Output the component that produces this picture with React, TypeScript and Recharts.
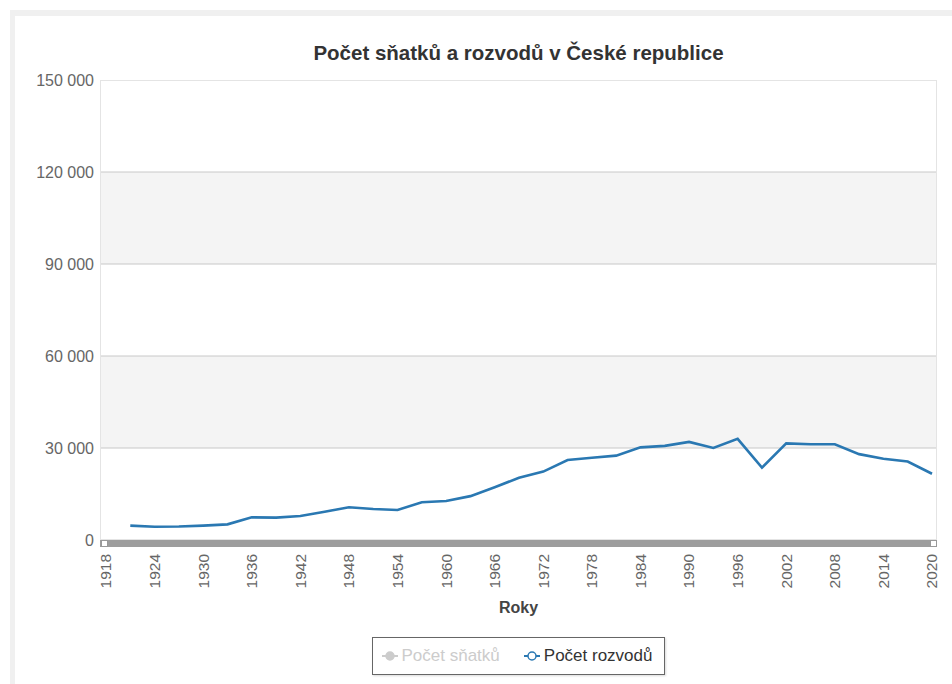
import React from 'react';
import { LineChart, Line, XAxis, YAxis, CartesianGrid, ReferenceLine, Legend } from 'recharts';

// Počet rozvodů (každé 3 roky)
const years = [
  1921, 1924, 1927, 1930, 1933, 1936, 1939, 1942, 1945, 1948, 1951, 1954,
  1957, 1960, 1963, 1966, 1969, 1972, 1975, 1978, 1981, 1984, 1987, 1990,
  1993, 1996, 1999, 2002, 2005, 2008, 2011, 2014, 2017, 2020,
];
const rozvody = [
  4700, 4300, 4400, 4700, 5100, 7400, 7300, 7800, 9200, 10700, 10100, 9800,
  12300, 12700, 14300, 17200, 20300, 22300, 26100, 26800, 27500, 30200, 30700, 32000,
  30000, 33000, 23600, 31500, 31200, 31200, 28000, 26500, 25600, 21600,
];
const xTicks = [
  1918, 1924, 1930, 1936, 1942, 1948, 1954, 1960, 1966, 1972, 1978, 1984,
  1990, 1996, 2002, 2008, 2014, 2020,
];
const yTicks = [0, 30000, 60000, 90000, 120000, 150000];
const seriesNames = ['Počet sňatků', 'Počet rozvodů'];
const seriesActive = [false, true];

const data = years.map((year, i) => ({ year, rozvody: rozvody[i] }));

const FONT = 'Arial, "Liberation Sans", sans-serif';
const BLUE = '#2a78b2';

const fmt = (v: number) => String(v).replace(/\B(?=(\d{3})+(?!\d))/g, ' ');

const XTick = ({ x, y, payload }: any) => (
  <g transform={`translate(${x},${y})`}>
    <text transform="rotate(-90)" textAnchor="end" dy="0.35em" fill="#666" fontSize={15.5} fontFamily={FONT}>
      {payload.value}
    </text>
  </g>
);

const LegendBox = () => (
  <div style={{ display: 'flex', justifyContent: 'center' }}>
    <div
      style={{
        border: '1px solid #666',
        boxShadow: '1px 1px 2px rgba(0,0,0,0.15)',
        height: 36,
        padding: '0 12px 0 9px',
        display: 'flex',
        alignItems: 'center',
        gap: 24,
        fontFamily: FONT,
        fontSize: 17,
        background: '#fff',
      }}
    >
      {seriesNames.map((name, i) => {
        const c = seriesActive[i] ? BLUE : '#cccccc';
        return (
          <div key={name} style={{ display: 'flex', alignItems: 'center', gap: 4, color: seriesActive[i] ? '#333' : '#cccccc' }}>
            <svg width={16} height={12}>
              <line x1={0} y1={6} x2={16} y2={6} stroke={c} strokeWidth={2} />
              <circle cx={8} cy={6} r={4} fill={seriesActive[i] ? '#fff' : c} stroke={c} strokeWidth={1.5} />
            </svg>
            <span>{name}</span>
          </div>
        );
      })}
    </div>
  </div>
);

export default function App() {
  return (
    <div style={{ position: 'absolute', left: 0, top: 0, width: 952, height: 684, background: '#fff', overflow: 'hidden' }}>
      <div style={{ position: 'absolute', left: 10, top: 10, width: 942, height: 6, background: '#f0f0f0' }} />
      <div style={{ position: 'absolute', left: 10, top: 10, width: 5, height: 674, background: '#f0f0f0' }} />
      <div
        style={{
          position: 'absolute', left: 100, top: 42, width: 837, textAlign: 'center',
          fontFamily: FONT, fontSize: 20.5, fontWeight: 'bold', color: '#333', lineHeight: '22px',
        }}
      >
        Počet sňatků a rozvodů v České republice
      </div>
      <div style={{ position: 'absolute', left: 0, top: 0 }}>
        <LineChart width={952} height={684} data={data} margin={{ top: 80, right: 15, bottom: 9, left: 0 }}>
          <CartesianGrid vertical={false} stroke="transparent" horizontalFill={['#ffffff', '#f4f4f4']} fillOpacity={1} />
          {yTicks.slice(1, -1).map((v) => (
            <ReferenceLine key={v} y={v} stroke="#c8c8c8" strokeWidth={1} />
          ))}
          <XAxis
            dataKey="year"
            type="number"
            domain={[1918, 2020]}
            ticks={xTicks}
            interval={0}
            padding={{ left: 6, right: 5 }}
            height={97}
            axisLine={false}
            tickLine={false}
            tickSize={0}
            tickMargin={14}
            tick={<XTick />}
            label={{ value: 'Roky', position: 'insideBottom', offset: 24, fill: '#444', fontSize: 16, fontWeight: 'bold', fontFamily: FONT }}
          />
          <YAxis
            type="number"
            domain={[0, 150000]}
            ticks={yTicks}
            width={100}
            axisLine={false}
            tickLine={false}
            tickSize={0}
            tickMargin={6}
            tickFormatter={fmt}
            tick={{ fill: '#666', fontSize: 16, fontFamily: FONT }}
          />
          <Line
            type="linear"
            dataKey="rozvody"
            name={seriesNames[1]}
            stroke={BLUE}
            strokeWidth={2.6}
            dot={false}
            isAnimationActive={false}
          />
          <Legend verticalAlign="bottom" wrapperStyle={{ left: 100, width: 837 }} content={<LegendBox />} />
        </LineChart>
      </div>
      <div style={{ position: 'absolute', left: 100, top: 80, width: 837, height: 460, boxSizing: 'border-box', border: '1px solid #e4e4e4', pointerEvents: 'none' }} />
      <div style={{ position: 'absolute', left: 100, top: 540, width: 837, height: 7, background: '#9d9d9d' }} />
      <div style={{ position: 'absolute', left: 101, top: 540, width: 5, height: 5, background: '#fff', border: '1px solid #999' }} />
      <div style={{ position: 'absolute', left: 930, top: 540, width: 5, height: 5, background: '#fff', border: '1px solid #999' }} />
    </div>
  );
}
